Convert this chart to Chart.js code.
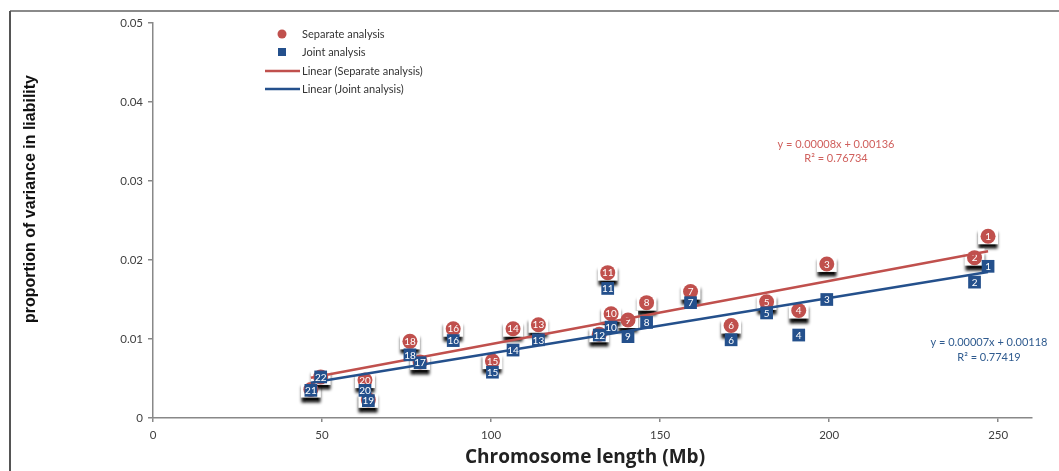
<!DOCTYPE html>
<html>
<head>
<meta charset="utf-8">
<script src="https://cdn.jsdelivr.net/npm/chart.js@4/dist/chart.umd.min.js"></script>
<style>
  html, body { margin: 0; padding: 0; background: #fff; }
  #wrap { width: 1059px; height: 471px; position: relative; }
</style>
</head>
<body>
<div id="wrap"><canvas id="chartVar"></canvas></div>
<script>
// chromosome numbers and lengths (Mb)
const chromosomes = ['1','2','3','4','5','6','7','8','9','10','11','12','13','14','15','16','17','18','19','20','21','22'];
const chromLength = [247, 243, 199.3, 191, 181.5, 171, 159, 146, 140.5, 135.5, 134.5, 132, 114, 106.5, 100.4, 88.8, 79, 76, 63.7, 62.7, 46.7, 49.6];

// proportion of variance in liability
const separateVar = [0.0230, 0.0203, 0.0195, 0.0136, 0.0147, 0.0117, 0.0160, 0.0146, 0.0124, 0.0132, 0.0184, 0.0106, 0.0118, 0.0113, 0.0072, 0.0113, 0.0071, 0.0097, 0.0023, 0.0048, 0.0036, 0.0052];
const jointVar    = [0.0192, 0.0172, 0.0150, 0.0105, 0.0133, 0.0099, 0.0146, 0.0121, 0.0103, 0.0115, 0.0164, 0.0105, 0.0099, 0.0086, 0.0058, 0.0098, 0.0070, 0.0080, 0.0022, 0.0035, 0.0035, 0.0052];

// linear trend (slope, intercept, R²)
const separateFit = [0.00008, 0.00136, 0.76734];
const jointFit    = [0.00007, 0.00118, 0.77419];

const xTicks = [0, 50, 100, 150, 200, 250];
const yTicks = [0, 0.01, 0.02, 0.03, 0.04, 0.05];

const RED = '#c0504d';
const BLUE = '#24508c';
const FONT = 'Lato, "Open Sans", sans-serif';

function points(ys){
    return chromLength.map((x, i) => ({x: x, y: ys[i]}));
}
function trend(fit){
    const lo = Math.min(...chromLength), hi = Math.max(...chromLength);
    return [{x: lo, y: fit[0]*lo + fit[1]}, {x: hi, y: fit[0]*hi + fit[1]}];
}

//飾り（枠・凡例・式・番号）
const deco = {
    id: 'deco',
    beforeDraw(chart){
        const c = chart.ctx;
        c.save();
        c.fillStyle = '#fff';
        c.fillRect(0, 0, chart.width, chart.height);
        c.lineWidth = 2;
        c.strokeStyle = '#8a8a8a';
        c.beginPath(); c.moveTo(10, 11); c.lineTo(chart.width, 11); c.stroke();
        c.strokeStyle = '#555';
        c.beginPath(); c.moveTo(10, 11); c.lineTo(10, chart.height); c.stroke();
        c.restore();
    },
    // white label boxes with shadow under the separate-analysis markers
    beforeDatasetDraw(chart, args){
        if (args.index !== 0) return;
        const c = chart.ctx;
        c.save();
        c.shadowColor = 'rgba(0,0,0,0.95)';
        c.shadowBlur = 3;
        c.shadowOffsetY = 5;
        c.fillStyle = '#fff';
        args.meta.data.forEach(el => {
            c.fillRect(el.x - 10, el.y - 9, 20, 17);
        });
        c.restore();
    },
    afterDatasetDraw(chart, args){
        if (args.index > 1) return;
        const c = chart.ctx;
        c.save();
        c.fillStyle = '#fff';
        c.font = '10px ' + FONT;
        c.textAlign = 'center';
        c.textBaseline = 'middle';
        args.meta.data.forEach((el, i) => {
            c.fillText(chromosomes[i], el.x, el.y + 0.5);
        });
        c.restore();
    },
    afterDraw(chart){
        const c = chart.ctx;
        c.save();
        // legend
        c.font = '11px ' + FONT;
        c.textBaseline = 'middle';
        c.textAlign = 'left';
        c.fillStyle = RED;
        c.beginPath(); c.arc(282, 34, 4.5, 0, Math.PI*2); c.fill();
        c.fillStyle = BLUE;
        c.fillRect(278, 48, 8, 8);
        c.lineWidth = 2.5;
        c.strokeStyle = RED;
        c.beginPath(); c.moveTo(265, 71); c.lineTo(300, 71); c.stroke();
        c.strokeStyle = BLUE;
        c.beginPath(); c.moveTo(265, 89); c.lineTo(300, 89); c.stroke();
        c.fillStyle = '#333';
        c.fillText('Separate analysis', 302, 34);
        c.fillText('Joint analysis', 302, 52);
        c.fillText('Linear (Separate analysis)', 302, 71);
        c.fillText('Linear (Joint analysis)', 302, 89);

        // trend equations
        c.textAlign = 'center';
        c.fillStyle = '#d0605d';
        c.fillText('y = ' + separateFit[0].toFixed(5) + 'x + ' + separateFit[1].toFixed(5), 836, 144);
        c.fillText('R\u00b2 = ' + separateFit[2].toFixed(5), 836, 158);
        c.fillStyle = '#2f5b8f';
        c.fillText('y = ' + jointFit[0].toFixed(5) + 'x + ' + jointFit[1].toFixed(5), 989, 342);
        c.fillText('R\u00b2 = ' + jointFit[2].toFixed(5), 989, 357);

        // axis titles
        c.fillStyle = '#111';
        c.font = 'bold 16px "Liberation Sans", Arial, sans-serif';
        c.translate(31, 199);
        c.rotate(-Math.PI/2);
        c.fillText('proportion of variance in liability', 0, 0);
        c.restore();

        c.save();
        c.fillStyle = '#222';
        c.font = 'bold 19px "Open Sans", sans-serif';
        c.textAlign = 'center';
        c.textBaseline = 'middle';
        c.fillText('Chromosome length (Mb)', 585, 458);
        c.restore();
    }
};

//チャート描画
function newChart(ctxId){
    const ctx = document.getElementById(ctxId).getContext('2d');
    return new Chart(ctx, {
        type: 'scatter',
        data: {
            datasets: [{
                label: 'Separate analysis',
                data: points(separateVar),
                pointStyle: 'circle',
                pointRadius: 7.5,
                backgroundColor: RED,
                borderWidth: 0,
                order: 3
            }, {
                label: 'Joint analysis',
                data: points(jointVar),
                pointStyle: 'rect',
                pointRadius: 9,
                backgroundColor: BLUE,
                borderWidth: 0,
                order: 0
            }, {
                label: 'Linear (Separate analysis)',
                type: 'line',
                data: trend(separateFit),
                borderColor: RED,
                borderWidth: 2.5,
                pointRadius: 0,
                order: 2
            }, {
                label: 'Linear (Joint analysis)',
                type: 'line',
                data: trend(jointFit),
                borderColor: BLUE,
                borderWidth: 2.5,
                pointRadius: 0,
                order: 1
            }]
        },
        options: {
            responsive: true,
            maintainAspectRatio: false,
            animation: false,
            layout: { padding: { top: 23, right: 27, bottom: 0, left: 0 } },
            scales: {
                x: {
                    type: 'linear',
                    min: 0,
                    max: 260,
                    afterBuildTicks: s => { s.ticks = xTicks.map(v => ({value: v})); },
                    afterFit: s => { s.height = 53; },
                    grid: { drawOnChartArea: false, color: '#888', tickLength: 4, lineWidth: 1.5 },
                    border: { color: '#888', width: 1.5 },
                    ticks: { color: '#404040', font: { family: FONT, size: 11.5 }, padding: 6, maxRotation: 0 }
                },
                y: {
                    min: 0,
                    max: 0.05,
                    afterBuildTicks: s => { s.ticks = yTicks.map(v => ({value: v})); },
                    afterFit: s => { s.width = 153; },
                    grid: { drawOnChartArea: false, color: '#888', tickLength: 5, lineWidth: 1.5 },
                    border: { color: '#888', width: 1.5 },
                    ticks: {
                        color: '#404040',
                        font: { family: FONT, size: 11.5 },
                        padding: 5,
                        callback: v => v === 0 ? '0' : v.toFixed(2)
                    }
                }
            },
            plugins: {
                legend: { display: false },
                tooltip: { enabled: false }
            }
        },
        plugins: [deco]
    });
}

window.addEventListener('DOMContentLoaded', () => {
    newChart('chartVar');
});
</script>
</body>
</html>
